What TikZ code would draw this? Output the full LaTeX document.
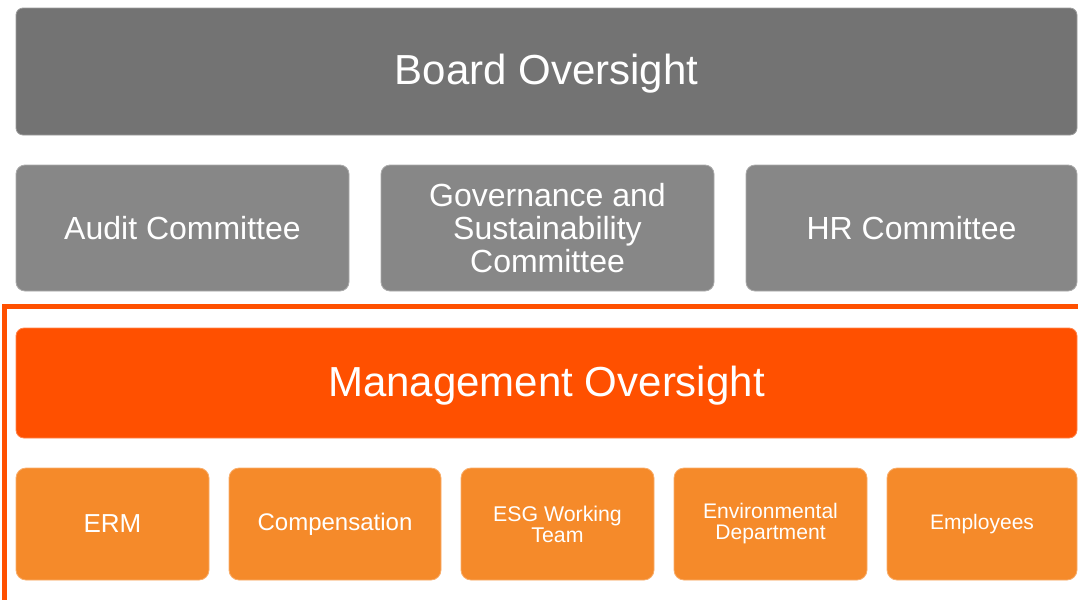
\documentclass[tikz,border=0pt]{standalone}
\usepackage{fontspec}
\setmainfont{Liberation Sans}
\definecolor{boardgray}{HTML}{737373}
\definecolor{commgray}{HTML}{878787}
\definecolor{mgmtorange}{HTML}{FF5000}
\definecolor{unitorange}{HTML}{F58A2A}
\tikzset{
  box/.style={rectangle, inner sep=0pt, text=white, align=center, line width=0.8pt},
  boardbox/.style={box, fill=boardgray, draw=boardgray!70!white, rounded corners=7pt,
    font=\fontsize{42}{44}\selectfont, text height=30pt, text depth=5pt},
  commbox/.style={box, fill=commgray, draw=commgray!70!white, rounded corners=9pt,
    font=\fontsize{32}{33}\selectfont},
  mgmtbox/.style={box, fill=mgmtorange, draw=mgmtorange!70!white, rounded corners=8pt,
    font=\fontsize{42}{44}\selectfont, text height=30pt, text depth=4pt},
  unitbox/.style={box, fill=unitorange, draw=unitorange!70!white, rounded corners=10pt,
    minimum height=112pt},
  frameline/.style={draw=mgmtorange, line width=5pt}
}
\begin{document}
\begin{tikzpicture}[x=1pt,y=-1pt]
\useasboundingbox (0,0) rectangle (1078,600);
\node[boardbox, minimum width=1061pt, minimum height=127pt] (board) at (546.5,71.5) {Board Oversight};
\node[commbox, minimum width=333pt, minimum height=126pt] (audit) at (182.5,228) {Audit Committee};
\node[commbox, minimum width=333pt, minimum height=126pt] (gov) at (547.5,228) {Governance and\\Sustainability\\Committee};
\node[commbox, minimum width=331pt, minimum height=126pt] (hr) at (911.5,228) {HR Committee};
\coordinate (frtr) at (1078,306);
\coordinate (frtl) at (4,306);
\coordinate (frbl) at (4,600);
\path[frameline] (frtr) -- (frtl) -- (frbl);
\node[mgmtbox, minimum width=1061pt, minimum height=110pt] (mgmt) at (546.5,383) {Management Oversight};
\node[unitbox, minimum width=193pt, font=\fontsize{26}{28}\selectfont] (erm) at (112.5,524) {ERM};
\node[unitbox, minimum width=212pt, font=\fontsize{24}{26}\selectfont] (comp) at (335,524) {Compensation};
\node[unitbox, minimum width=193pt, font=\fontsize{21.3}{21}\selectfont] (esg) at (557.5,524) {ESG Working\\Team};
\node[unitbox, minimum width=193pt, font=\fontsize{21.1}{21}\selectfont] (env) at (770.5,524) {Environmental\\Department};
\node[unitbox, minimum width=190pt, font=\fontsize{21}{23}\selectfont] (emp) at (982,524) {Employees};
\end{tikzpicture}
\end{document}
